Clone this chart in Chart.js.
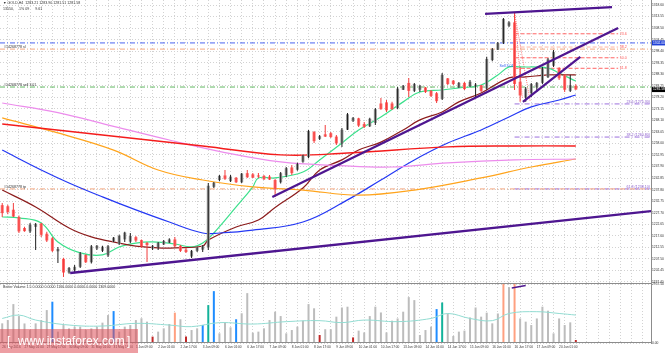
<!DOCTYPE html>
<html>
<head>
<meta charset="utf-8">
<title>GOLD H4</title>
<script src="https://cdn.jsdelivr.net/npm/chart.js@4.4.1/dist/chart.umd.min.js"></script>
<style>
  html, body { margin: 0; padding: 0; background: #fff; }
  body { width: 665px; height: 353px; position: relative; overflow: hidden; font-family: "Liberation Sans", Arial, sans-serif; }
  canvas { position: absolute; left: 0; }
  #main { top: 0; }
  #vol { top: 280px; }
  #wm { position: absolute; left: 0; top: 329px; width: 138px; height: 24px; background: rgba(222, 78, 88, 0.55); }
  #wm span { position: absolute; color: #fff; font-size: 12px; top: 5px; }
</style>
</head>
<body>
<canvas id="main" width="665" height="284"></canvas>
<canvas id="vol" width="665" height="73"></canvas>
<div id="wm"><span style="left:7px">[</span><span style="left:18px">www.instaforex.com</span><span style="left:127px">]</span></div>
<script>
// GOLD H4, 104 bars (26 May - 20 Jun 2016)
const open = [
  1231.0,1230.5,1229.0,1225.8,1221.0,1219.5,1221.5,1223.0,1218.5,1216.5,
  1210.8,1207.5,1201.5,1202.5,1204.0,1209.2,1206.0,1212.0,1211.0,1209.0,
  1215.0,1214.0,1216.0,1215.0,1217.0,1215.7,1214.5,1212.0,1212.5,1213.8,
  1214.5,1216.0,1213.2,1211.5,1208.5,1211.0,1211.5,1212.5,1239.0,1242.0,
  1244.0,1241.5,1243.0,1241.0,1245.0,1244.5,1244.0,1243.8,1243.5,1242.0,
  1241.0,1244.0,1247.5,1246.5,1250.0,1252.0,1263.0,1260.0,1262.0,1262.5,
  1261.0,1258.0,1264.0,1268.0,1269.0,1266.5,1265.5,1267.0,1275.5,1276.0,
  1275.5,1273.5,1281.5,1284.5,1281.0,1281.5,1282.5,1281.0,1280.0,1277.5,
  1286.5,1285.5,1282.5,1284.5,1283.0,1283.0,1283.5,1282.0,1294.5,1299.0,
  1302.0,1309.5,1311.0,1285.0,1278.0,1280.0,1282.5,1284.5,1287.0,1292.0,
  1291.0,1288.0,1281.0,1283.21];
const high = [
  1231.9,1231.2,1231.9,1226.5,1221.5,1223.2,1223.2,1223.2,1219.3,1217.1,
  1212.7,1208.0,1203.9,1204.8,1210.5,1209.5,1213.6,1213.6,1213.2,1213.6,
  1217.1,1218.0,1219.3,1218.8,1217.5,1216.0,1214.9,1213.6,1214.9,1215.7,
  1216.5,1217.1,1213.6,1212.3,1211.4,1212.7,1213.6,1240.7,1241.1,1244.2,
  1246.4,1244.2,1243.3,1245.1,1246.4,1245.1,1245.1,1244.2,1244.2,1242.5,
  1245.5,1247.7,1248.6,1249.5,1253.0,1263.9,1263.5,1261.7,1266.1,1263.0,
  1261.7,1264.8,1271.3,1269.6,1269.2,1267.4,1269.2,1273.5,1277.9,1277.0,
  1276.2,1282.7,1283.6,1286.7,1284.5,1283.6,1282.7,1281.4,1280.5,1288.8,
  1286.7,1285.8,1284.9,1284.9,1285.8,1284.5,1283.6,1295.9,1299.8,1302.4,
  1312.9,1311.5,1315.1,1291.5,1282.7,1284.5,1284.9,1291.5,1295.4,1298.9,
  1291.3,1288.3,1288.0,1283.90];
const low = [
  1225.8,1227.0,1225.8,1218.8,1219.3,1218.8,1211.4,1217.1,1214.9,1210.5,
  1205.7,1199.5,1201.0,1201.7,1203.5,1205.7,1205.5,1211.4,1210.5,1208.3,
  1214.9,1213.6,1214.9,1214.4,1214.9,1212.3,1206.1,1211.4,1211.4,1213.6,
  1214.4,1212.7,1210.5,1210.1,1207.9,1210.5,1210.5,1211.4,1238.5,1241.5,
  1242.0,1241.1,1240.7,1240.7,1242.9,1242.9,1242.9,1242.0,1242.0,1234.6,
  1240.5,1243.3,1244.2,1246.0,1249.5,1251.5,1258.2,1259.5,1260.8,1260.4,
  1257.3,1256.5,1263.9,1267.4,1265.2,1264.8,1265.2,1266.1,1272.7,1271.8,
  1272.7,1273.0,1281.4,1278.3,1280.5,1280.5,1280.1,1278.3,1275.7,1277.0,
  1283.6,1283.6,1282.3,1281.4,1282.7,1278.3,1280.5,1281.5,1294.0,1298.9,
  1301.5,1309.0,1281.4,1276.2,1276.2,1278.3,1280.5,1284.0,1286.7,1291.5,
  1285.8,1280.5,1280.5,1281.51];
const close = [
  1227.5,1228.0,1226.0,1219.5,1219.6,1222.5,1222.8,1218.0,1215.5,1211.0,
  1211.8,1201.5,1203.5,1204.0,1210.0,1206.0,1213.0,1213.2,1212.8,1213.0,
  1216.8,1217.5,1219.0,1217.5,1215.5,1213.0,1213.5,1213.2,1214.5,1215.3,
  1216.0,1213.0,1211.0,1210.5,1211.0,1212.3,1213.2,1239.5,1240.8,1243.8,
  1242.5,1243.5,1241.0,1244.8,1243.2,1243.0,1243.5,1242.3,1242.2,1238.0,
  1245.0,1247.2,1245.0,1249.0,1252.7,1263.5,1259.0,1261.2,1261.0,1260.8,
  1258.0,1264.0,1270.8,1269.2,1265.8,1265.2,1268.8,1273.0,1273.0,1272.5,
  1273.0,1282.0,1283.2,1281.0,1284.0,1283.2,1280.5,1278.8,1276.5,1288.0,
  1284.0,1284.0,1284.5,1281.8,1285.0,1283.8,1281.0,1295.0,1299.3,1302.0,
  1312.5,1311.0,1284.0,1279.0,1282.0,1284.0,1284.5,1291.0,1294.8,1298.0,
  1286.5,1281.5,1283.5,1281.58];

// Better Volume
const vol = [
  985,1150,1950,1350,980,650,985,1150,1650,2070,
  570,900,735,820,820,650,735,820,1020,1400,
  1600,570,820,900,1150,1240,1070,320,570,735,
  950,1520,1190,320,650,735,900,1900,2600,485,
  1035,785,1190,1490,2500,520,570,735,1150,1570,
  1350,485,650,820,1120,1950,1740,400,690,690,
  1320,1780,1820,280,620,530,1350,1820,1530,530,
  1120,1230,1570,2300,2150,400,650,820,1700,2030,
  1480,350,570,620,1280,1780,1320,1520,985,1480,
  3100,2800,3100,1230,1070,900,1230,1820,1620,485,
  1230,900,1035,150];
const climaxBars = [9, 20, 36, 38, 42, 78];
const churnBars = [37, 79];
const lowVolBars = [27, 33, 57, 63, 103];
const climaxChurnBars = [31, 90, 92];
const volAvgIdx = [0,3,6,12,18,24,30,34,39,45,51,57,61,65,71,77,80,84,88,91,96,100,103];
const volAvg = [1230,1400,1150,900,850,985,900,820,1020,950,1070,1120,1020,1150,1070,1230,1480,1230,1120,1480,1570,1480,1400];

// moving averages, read at some bars
const maFastIdx = [0,3,7,10,14,18,21,24,27,31,34,36,38,42,45,46,49,54,57,61,64,68,72,75,79,82,86,89,91,93,98,100,103];
const maFast = [1225.8,1225.4,1223.2,1214.9,1210.1,1209.2,1212.7,1214.4,1214.9,1214.0,1212.7,1214.4,1218.8,1230.2,1239.0,1242.9,1242.9,1245.5,1250.8,1258.2,1263.9,1269.6,1276.2,1280.5,1281.4,1282.3,1283.6,1288.0,1291.5,1291.5,1291.0,1288.8,1285.3];
const maMidIdx = [0,6,12,16,21,24,28,31,36,37,42,46,49,54,57,61,64,68,72,75,79,82,86,91,94,98,103];
const maMid = [1237.6,1230.2,1221.0,1217.1,1214.4,1213.1,1212.3,1212.3,1213.1,1215.7,1221.4,1224.5,1230.0,1238.5,1246.4,1250.8,1255.1,1258.6,1263.9,1268.3,1271.8,1276.2,1280.1,1286.7,1287.1,1288.0,1288.0];
const maBlueIdx = [0,7,12,18,24,30,36,39,45,54,62,68,74,80,86,91,95,100,103];
const maBlue = [1255.1,1246.4,1240.7,1234.6,1228.9,1223.6,1218.8,1218.8,1220.1,1223.6,1233.3,1242.0,1250.8,1258.2,1263.9,1269.6,1274.0,1277.0,1279.2];
const maRedIdx = [0,18,36,50,62,80,92,103];
const maRed = [1266.5,1261.7,1256.9,1253.0,1253.8,1256.5,1256.9,1256.9];
const maPinkIdx = [0,10,20,30,40,50,60,70,80,92,103];
const maPink = [1275.7,1271.5,1265.5,1259.5,1254.0,1249.9,1248.4,1247.7,1249.5,1250.8,1251.2];
const maOrangeIdx = [0,10,20,28,36,45,54,64,74,86,95,103];
const maOrange = [1269.2,1262.6,1255.1,1246.4,1242.0,1239.0,1237.6,1235.4,1237.6,1242.9,1247.7,1251.2];

// drawn objects: [bar0, price0, bar1, price1]
const trendLines = [
  [12.2, 1201.3, 116.5, 1228.4],
  [48.5, 1234.6, 110.6, 1308.5],
  [93.5, 1276.2, 103.8, 1295.9],
  [86.7, 1314.7, 109.5, 1317.7]
];
const fanLines = [[92, 1315.1, 94.8, 1276.5], [92, 1315.1, 93.4, 1278.0]];
const orderBlue = 1302.0, orderSl = 1299.3, orderOpen = 1282.7, orderTp = 1238.1;
const fibBig = [1275.3, 1260.8, 1238.1];
const fibBigLabels = ['23.6 (1275.30)', '38.2 (1260.80)', '61.8 (1238.10)'];
const fibSmall = [1306.0, 1300.2, 1295.5, 1290.9];
const fibSmallLabels = ['23.6', '38.2', '50.0', '61.8'];
const lastPrice = 1281.58;

const priceTicks = [1318.60,1313.55,1308.50,1303.45,1298.40,1293.35,1288.30,1283.25,1278.20,1273.15,1268.10,1263.05,1258.00,1252.95,1247.90,1242.85,1237.80,1232.75,1227.70,1222.65,1217.60,1212.55,1207.50,1202.45,1197.40];
const volTicks = [0, 2957.5];
const timeLabels = ["26 May 2016","27 May 01:00","27 May 17:00","30 May 09:00","31 May 01:00","31 May 17:00","1 Jun 09:00","2 Jun 01:00","2 Jun 17:00","3 Jun 09:00","6 Jun 01:00","6 Jun 17:00","7 Jun 09:00","8 Jun 01:00","8 Jun 17:00","9 Jun 09:00","10 Jun 01:00","10 Jun 17:00","13 Jun 09:00","14 Jun 01:00","14 Jun 17:00","15 Jun 09:00","16 Jun 01:00","16 Jun 17:00","17 Jun 09:00","20 Jun 01:00"];

const FONT = '"Liberation Sans", Arial, sans-serif';
const X_MIN = -0.4, X_MAX = 116.5;
const Y_MIN = 1196.48, Y_MAX = 1320.79;
const DASHDOT = [5, 2, 1, 2];

const idx = close.map((_, i) => i);
const pts = (ix, vals) => ix.map((i, k) => ({x: i, y: vals[k]}));
const seg = (a) => [{x: a[0], y: a[1]}, {x: a[2], y: a[3]}];
const hline = (p, from, to) => [{x: from, y: p}, {x: to, y: p}];

function line(data, color, width, extra) {
  return Object.assign({type: 'line', data: data, borderColor: color, borderWidth: width,
    pointRadius: 0, fill: false, tension: 0}, extra || {});
}
function bars(list, a, b, color, w, minLen) {
  return {type: 'bar', data: list.map(i => ({x: i, y: [a[i], b[i]]})), backgroundColor: color,
    maxBarThickness: w, grouped: false, borderWidth: 0, minBarLength: minLen, inflateAmount: 0, order: 3};
}

const overlay = {
  id: 'overlay',
  afterDraw(chart, args, opts) {
    const {ctx, chartArea: a, scales} = chart;
    ctx.save();
    ctx.strokeStyle = '#8c8c8c';
    ctx.lineWidth = 1;
    ctx.beginPath();
    ctx.moveTo(a.left, a.bottom - 0.5);
    ctx.lineTo(a.right, a.bottom - 0.5);
    ctx.stroke();
    ctx.textBaseline = 'top';
    (opts.texts || []).forEach(t => {
      ctx.font = (t.size || 3.6) + 'px ' + FONT;
      ctx.fillStyle = t.color || '#333';
      ctx.textAlign = t.align || 'left';
      const px = t.i !== undefined ? scales.x.getPixelForValue(t.i) : t.px;
      const py = t.p !== undefined ? scales.y.getPixelForValue(t.p) : t.py;
      ctx.fillText(t.text, px + (t.dx || 0), py + (t.dy || 0));
    });
    (opts.boxes || []).forEach(b => {
      const py = scales.y.getPixelForValue(b.p);
      ctx.fillStyle = b.bg;
      ctx.fillRect(a.right + 1, py - 2.5, 14, 5);
      ctx.fillStyle = '#fff';
      ctx.font = '3.3px ' + FONT;
      ctx.textAlign = 'left';
      ctx.textBaseline = 'middle';
      ctx.fillText(b.p.toFixed(2), a.right + 2, py);
      ctx.textBaseline = 'top';
    });
    ctx.restore();
  }
};

function xScale(showLabels) {
  return {
    type: 'linear', min: X_MIN, max: X_MAX, bounds: 'data', offset: false,
    grid: {color: '#d2d2d2', drawTicks: false},
    border: {display: false, dash: [1, 2]},
    ticks: {display: showLabels, autoSkip: false, maxRotation: 0, minRotation: 0, align: 'start',
      padding: 2, color: '#333', font: {size: 3.2, family: FONT},
      callback: v => (v % 4 === 0 && timeLabels[v / 4]) ? timeLabels[v / 4] : ''},
    afterBuildTicks: s => { const t = []; for (let v = 0; v <= 116; v += 2) t.push({value: v}); s.ticks = t; },
    afterFit: s => { s.height = showLabels ? 10 : 0; s.paddingLeft = 0; s.paddingRight = 0; }
  };
}
function yScale(min, max, ticks) {
  return {
    type: 'linear', position: 'right', min: min, max: max, bounds: 'data',
    grid: {color: '#d2d2d2', drawTicks: false},
    border: {display: true, color: '#8c8c8c', dash: [1, 2]},
    ticks: {padding: 1, color: '#333', font: {size: 3.3, family: FONT}, callback: v => v.toFixed(2)},
    afterBuildTicks: s => { s.ticks = ticks.map(v => ({value: v})); },
    afterFit: s => { s.width = 14; s.paddingTop = 0; s.paddingBottom = 0; }
  };
}

const up = idx.filter(i => close[i] >= open[i]);
const down = idx.filter(i => close[i] < open[i]);

const mainSets = [
  line(hline(orderBlue, X_MIN, X_MAX), '#4a64f0', 1, {borderDash: DASHDOT, order: 10}),
  line(hline(orderSl, X_MIN, X_MAX), '#f4a880', 1, {borderDash: DASHDOT, order: 10}),
  line(hline(orderOpen, X_MIN, X_MAX), '#62b862', 1, {borderDash: DASHDOT, order: 10}),
  line(hline(orderTp, X_MIN, X_MAX), '#f4a880', 1, {borderDash: DASHDOT, order: 10}),
  ...fibBig.map(p => line(hline(p, 92, X_MAX), '#9c70dc', 1, {borderDash: DASHDOT, order: 10})),
  ...fibSmall.map((p, k) => line(hline(p, 92, 110.6), k === 1 ? '#ffb4a4' : '#ff6464', 1, {borderDash: [4, 2], order: 10})),
  ...fanLines.map(f => line(seg(f), '#ff7a7a', 1, {borderDash: [1, 1], order: 10})),
  line(pts(maRedIdx, maRed), '#f41c1c', 1.4, {tension: 0.4, order: 5}),
  line(pts(maPinkIdx, maPink), '#ec8cec', 1.2, {tension: 0.4, order: 5}),
  line(pts(maOrangeIdx, maOrange), '#ffa41c', 1.2, {tension: 0.4, order: 5}),
  line(pts(maBlueIdx, maBlue), '#2438f4', 1.2, {tension: 0.4, order: 5}),
  line(pts(maMidIdx, maMid), '#8c1c1c', 1.2, {tension: 0.4, order: 5}),
  line(pts(maFastIdx, maFast), '#3ce08c', 1.2, {tension: 0.4, order: 5}),
  bars(up, low, high, '#1e1e1e', 1, 0),
  bars(down, low, high, '#f23c3c', 1, 0),
  bars(up, open, close, '#9a9a9a', 3, 1),
  bars(down, open, close, '#ff6a6a', 3, 1),
  ...trendLines.map(t => line(seg(t), '#4e1690', 2.3, {order: 1}))
];

const mainTexts = [
  {px: 3, py: 1.5, text: '\u25BC GOLD,H4  1283.21 1283.90 1281.51 1281.58'},
  {px: 3, py: 7.5, text: '13550,     1% 09      9.61'},
  {px: 4, p: orderSl, dy: -3.4, text: '#14268778 sl'},
  {px: 4, p: orderOpen, dy: -4.2, text: '#14268778 sell 3.01'},
  {px: 4, p: orderTp, dy: -4.2, text: '#14268778 tp'},
  {i: 89.3, p: 1291.8, dy: -2, text: 'Sell 3.01', color: '#2b58f0'},
  ...fibSmall.map((p, k) => ({i: 110.7, p: p, dx: 1, dy: -2, text: fibSmallLabels[k], color: '#ff5a5a'})),
  ...fibBig.map((p, k) => ({px: 650, p: p, dy: -4, align: 'right', text: fibBigLabels[k], color: '#8a5ccc'}))
];

new Chart(document.getElementById('main'), {
  type: 'line',
  data: {datasets: mainSets},
  options: {
    responsive: false, animation: false, devicePixelRatio: 1, events: [],
    layout: {padding: 0},
    plugins: {
      legend: {display: false}, tooltip: {enabled: false},
      overlay: {texts: mainTexts, boxes: [{p: orderBlue, bg: '#2040d8'}, {p: lastPrice, bg: '#000'}]}
    },
    scales: {x: xScale(false), y: yScale(Y_MIN, Y_MAX, priceTicks)}
  },
  plugins: [overlay]
});

const volColors = idx.map(i =>
  climaxBars.includes(i) ? '#1e8cff' :
  churnBars.includes(i) ? '#12b29a' :
  lowVolBars.includes(i) ? '#c02828' :
  climaxChurnBars.includes(i) ? '#ffa080' : '#bcbcbc');

new Chart(document.getElementById('vol'), {
  type: 'line',
  data: {datasets: [
    {type: 'bar', data: vol.map((v, i) => ({x: i, y: v})), backgroundColor: volColors,
      maxBarThickness: 2, grouped: false, borderWidth: 0, inflateAmount: 0, order: 3},
    line(pts(volAvgIdx, volAvg), '#92dcd2', 1, {tension: 0.4, order: 2}),
    line([{x: 91.5, y: 2760}, {x: 94, y: 2880}], '#4e1690', 1.4, {order: 1})
  ]},
  options: {
    responsive: false, animation: false, devicePixelRatio: 1, events: [],
    layout: {padding: {top: 4}},
    plugins: {
      legend: {display: false}, tooltip: {enabled: false},
      overlay: {texts: [{px: 3, py: 5.5, text: 'Better Volume 1.5 0.0000 0.0000 1166.0000 0.0000 0.0000 1309.0000'}]}
    },
    scales: {x: xScale(true), y: yScale(0, 2957.5, volTicks)}
  },
  plugins: [overlay]
});
</script>
</body>
</html>
